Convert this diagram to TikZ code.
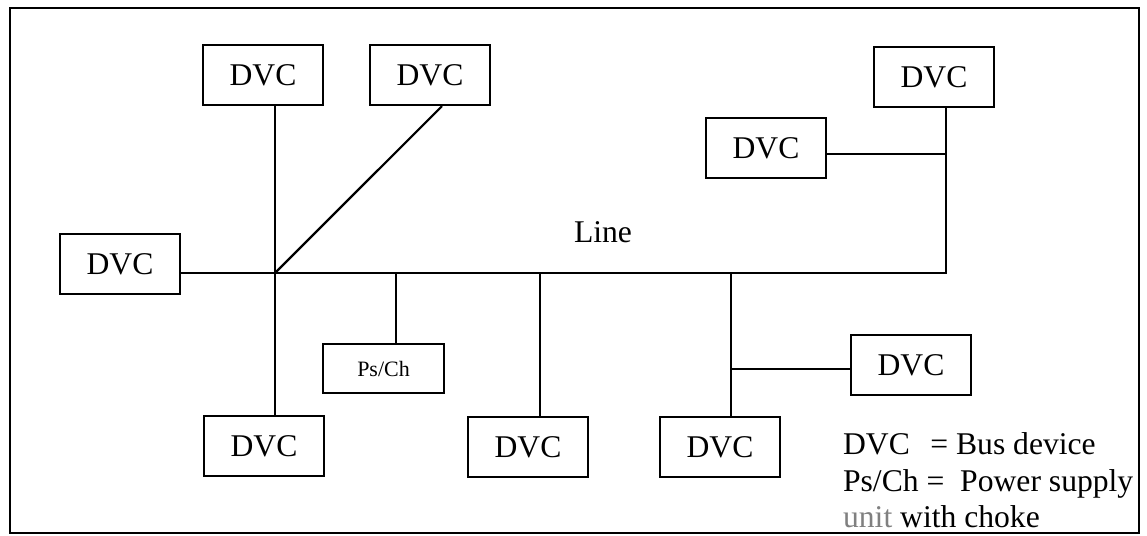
\documentclass[tikz,border=0pt]{standalone}
\usepackage{fontspec}
\setmainfont{Liberation Serif}
\usepackage{tikz}

\begin{document}
\begin{tikzpicture}[x=0.02cm, y=-0.02cm, line width=1.25pt,
    dvc/.style={draw, minimum width=2.4cm, minimum height=1.2cm, inner sep=0pt, font=\fontsize{18}{20}\selectfont},
    psch/.style={draw, minimum width=2.42cm, minimum height=0.98cm, inner sep=0pt, font=\fontsize{12.5}{14}\selectfont},
    legend/.style={anchor=base west, inner sep=0pt, font=\fontsize{18}{20}\selectfont}]
            \useasboundingbox (0,0) rectangle (1147,536);
            % Khung ngoài
            \draw (10,8) rectangle (1139,533);

            % Các thiết bị bus
            \node[dvc] (tl) at (263,75) {DVC};
            \node[dvc] (tm) at (430,75) {DVC};
            \node[dvc] (tr) at (934,77) {DVC};
            \node[dvc] (rm) at (766,148) {DVC};
            \node[dvc] (lf) at (120,264) {DVC};
            \node[dvc] (bl) at (264,446) {DVC};
            \node[dvc] (bm) at (528,447) {DVC};
            \node[dvc] (br) at (720,447) {DVC};
            \node[dvc] (rl) at (911,365) {DVC};
            \node[psch] (ps) at (383.5,368.5) {Ps/Ch};

            % Các điểm rẽ nhánh
            \coordinate (J) at (275,273);
            \coordinate (P) at (396,273);
            \coordinate (M) at (540,273);
            \coordinate (K) at (731,273);
            \coordinate (R) at (946,273);
            \coordinate (Rb) at (946,154);
            \coordinate (Kb) at (731,369);

            % Đường dây chính
            \draw (lf.east |- J) -- (R) -- (tr.south -| R);
            \node[font=\fontsize{18}{20}\selectfont] (line) at (603,232) {Line};

            % Các nhánh
            \draw (tl.south -| J) -- (bl.north -| J);
            \draw (J) -- ([xshift=0.24cm]tm.south);
            \draw (Rb) -- (rm.east |- Rb);
            \draw (P) -- (ps.north -| P);
            \draw (M) -- (bm.north -| M);
            \draw (K) -- (br.north -| K);
            \draw (Kb) -- (rl.west |- Kb);

            % Chú thích
            \node[legend] (leg1) at (842,455) {DVC\hspace{0.65em}= Bus device};
            \node[legend] (leg2) at (842,492) {Ps/Ch = \ Power supply};
            \node[legend] (leg3) at (842,528) {\textcolor{black!50}{unit} with choke};
        \end{tikzpicture}
\end{document}
